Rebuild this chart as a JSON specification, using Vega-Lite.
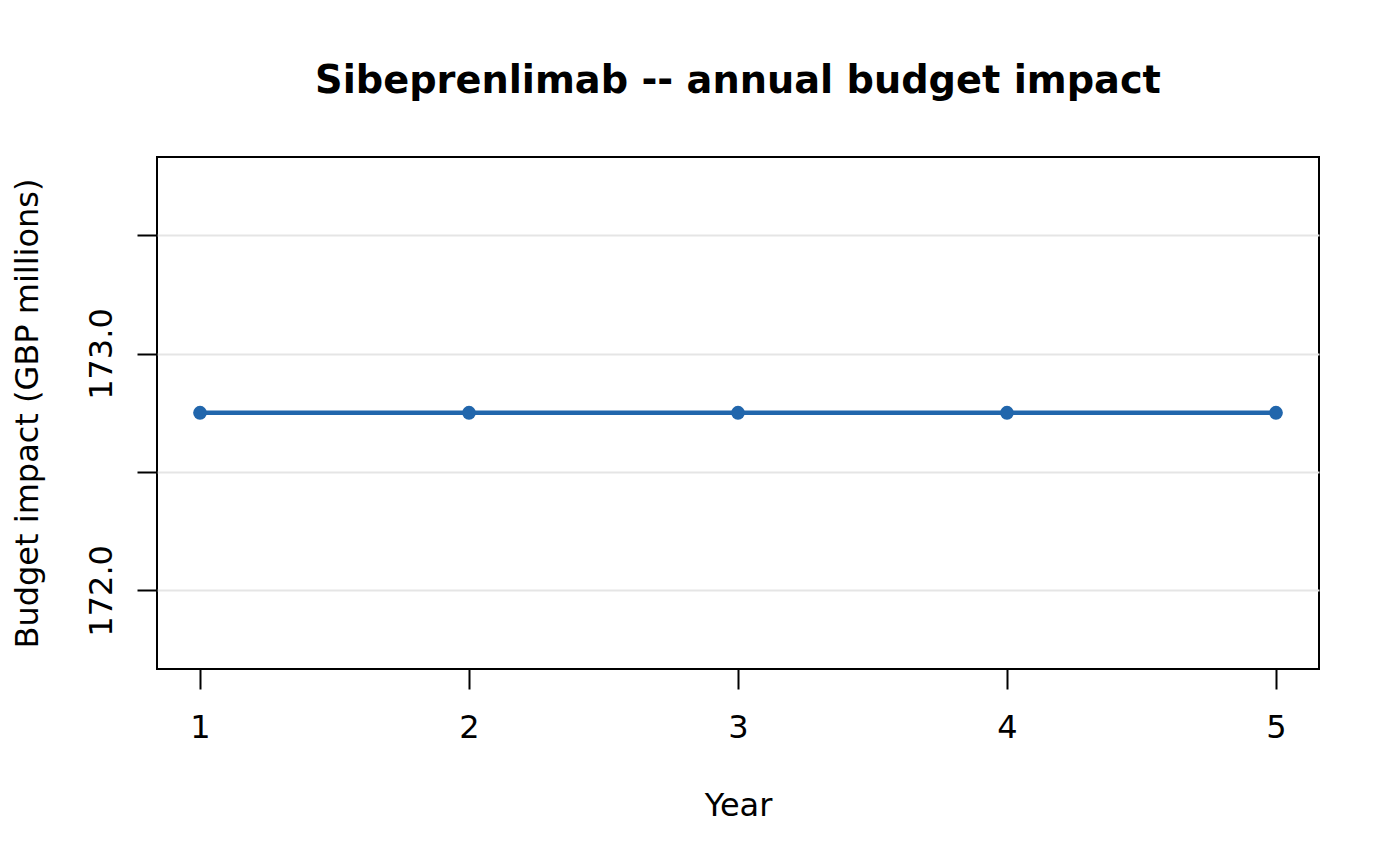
{
  "$schema": "https://vega.github.io/schema/vega-lite/v6.json",
  "width": 1162,
  "height": 512,
  "autosize": {"type": "none"},
  "padding": {"left": 157, "top": 157, "right": 81, "bottom": 197},
  "background": "white",
  "config": {
    "font": "DejaVu Sans",
    "view": {"stroke": "black", "strokeWidth": 2}
  },
  "title": {
    "text": "Sibeprenlimab -- annual budget impact",
    "font": "DejaVu Sans",
    "fontSize": 38.3,
    "fontWeight": "bold",
    "color": "black",
    "anchor": "middle",
    "frame": "group",
    "baseline": "alphabetic",
    "offset": 26
  },
  "data": {
    "values": [
      {"year": 1, "impact": 172.75},
      {"year": 2, "impact": 172.75},
      {"year": 3, "impact": 172.75},
      {"year": 4, "impact": 172.75},
      {"year": 5, "impact": 172.75}
    ]
  },
  "encoding": {
    "x": {
      "field": "year",
      "type": "quantitative",
      "scale": {"domain": [0.84, 5.16], "nice": false, "zero": false},
      "axis": {
        "title": "Year",
        "values": [1, 2, 3, 4, 5],
        "format": "d",
        "grid": false,
        "domain": false,
        "ticks": true,
        "tickSize": 20,
        "tickWidth": 2,
        "tickColor": "black",
        "labelFontSize": 32,
        "labelColor": "black",
        "labelFont": "DejaVu Sans",
        "labelBaseline": "alphabetic",
        "labelPadding": 48,
        "labelFlush": false,
        "titleFontSize": 32,
        "titleFontWeight": "normal",
        "titleColor": "black",
        "titleFont": "DejaVu Sans",
        "titleBaseline": "alphabetic",
        "titleAnchor": "middle",
        "titleX": 581,
        "titleY": 146
      }
    },
    "y": {
      "field": "impact",
      "type": "quantitative",
      "scale": {"domain": [171.668, 173.83], "nice": false, "zero": false},
      "axis": {
        "title": "Budget impact (GBP millions)",
        "values": [172.0, 172.5, 173.0, 173.5],
        "labelExpr": "(datum.value == 172 || datum.value == 173) ? format(datum.value, '.1f') : ''",
        "grid": true,
        "gridColor": "#e5e5e5",
        "gridWidth": 2,
        "domain": false,
        "ticks": true,
        "tickSize": 20,
        "tickWidth": 2,
        "tickColor": "black",
        "labelFontSize": 32,
        "labelColor": "black",
        "labelFont": "DejaVu Sans",
        "labelAngle": -90,
        "labelAlign": "center",
        "labelBaseline": "alphabetic",
        "labelPadding": 26,
        "labelOverlap": false,
        "labelFlush": false,
        "titleFontSize": 32,
        "titleFontWeight": "normal",
        "titleColor": "black",
        "titleFont": "DejaVu Sans",
        "titleAngle": -90,
        "titleAlign": "center",
        "titleBaseline": "alphabetic",
        "titleX": -120,
        "titleY": 256
      }
    }
  },
  "layer": [
    {
      "mark": {"type": "line", "color": "#2166ac", "strokeWidth": 4.5}
    },
    {
      "mark": {"type": "point", "filled": true, "shape": "circle", "color": "#2166ac", "size": 190, "opacity": 1}
    }
  ]
}
